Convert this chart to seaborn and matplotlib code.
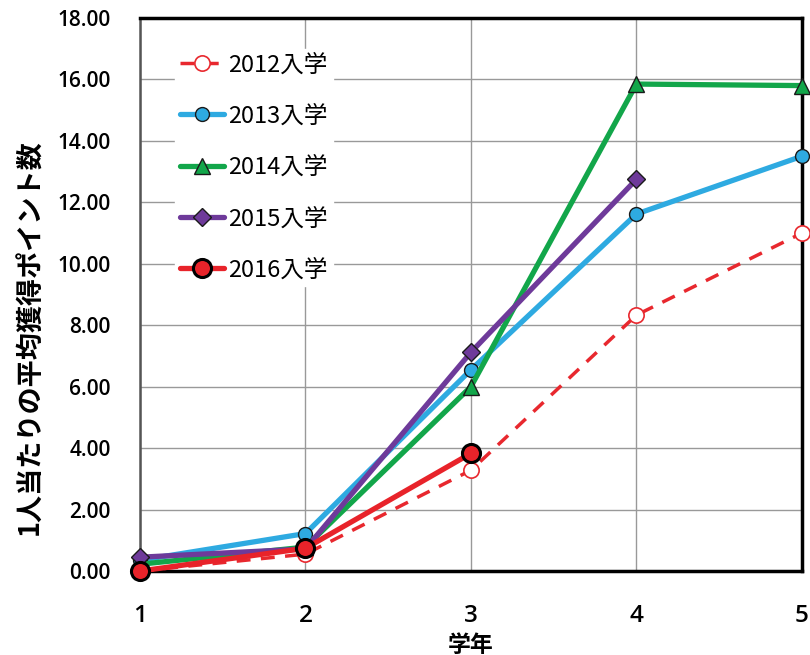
import matplotlib
matplotlib.use("Agg")
import matplotlib.pyplot as plt
import seaborn as sns
import pandas as pd
from matplotlib.ticker import FormatStrFormatter

grades = [1, 2, 3, 4, 5]
series_names = ["2012入学", "2013入学", "2014入学", "2015入学", "2016入学"]
v2012 = [0.0, 0.55, 3.28, 8.33, 11.0]
v2013 = [0.35, 1.22, 6.55, 11.62, 13.5]
v2014 = [0.22, 0.78, 6.0, 15.85, 15.8]
v2015 = [0.45, 0.72, 7.12, 12.75]
v2016 = [0.0, 0.74, 3.83]
values = [v2012, v2013, v2014, v2015, v2016]
yticks = [0, 2, 4, 6, 8, 10, 12, 14, 16, 18]

sns.set_style("white")
plt.rcParams['font.family'] = ['Noto Sans CJK JP', 'DejaVu Sans']

fig = plt.figure(figsize=(8.1, 6.55), dpi=100)
ax = fig.add_axes([0.1728, 0.1282, 0.8172, 0.8443])

styles = [
    dict(color="#E8282E", lw=2.5, ls=(0, (4, 3)), marker="o", ms=11, mfc="white", mec="#E8282E", mew=1.2),
    dict(color="#2EAAE1", lw=3.8, ls="-", marker="o", ms=10, mfc="#2EAAE1", mec="#1a1a1a", mew=1.0),
    dict(color="#12A64A", lw=3.8, ls="-", marker="^", ms=11, mfc="#12A64A", mec="#1a1a1a", mew=1.0),
    dict(color="#6E3A9A", lw=3.8, ls="-", marker="D", ms=9, mfc="#6E3A9A", mec="#1a1a1a", mew=1.0),
    dict(color="#E8232A", lw=3.8, ls="-", marker="o", ms=13, mfc="#E8232A", mec="#000000", mew=2.2),
]

handles = []
for name, vals, st in zip(series_names, values, styles):
    df = pd.DataFrame({"学年": grades[:len(vals)], "v": vals})
    sns.lineplot(data=df, x="学年", y="v", ax=ax, color=st["color"], linewidth=st["lw"],
                 linestyle=st["ls"], marker=st["marker"], markersize=st["ms"],
                 markerfacecolor=st["mfc"], markeredgecolor=st["mec"], markeredgewidth=st["mew"],
                 label=name, zorder=3, clip_on=False)
    handles.append(ax.lines[-1])

ax.set_xlim(1, 5)
ax.set_ylim(0, 18)
ax.set_xticks(grades)
ax.set_yticks(yticks)
ax.yaxis.set_major_formatter(FormatStrFormatter("%.2f"))
ax.grid(True, color="#999999", linewidth=1.0)
ax.set_axisbelow(True)

for side in ["top", "right", "bottom"]:
    ax.spines[side].set_color("black")
    ax.spines[side].set_linewidth(2.5)
ax.spines["left"].set_color("#555555")
ax.spines["left"].set_linewidth(1.8)

ax.tick_params(axis="x", direction="in", length=8, width=1, labelsize=17.5, pad=24,
               colors="black", labelcolor="black")
ax.tick_params(axis="y", length=0, labelsize=15, pad=21, labelcolor="black")
for lab in ax.get_yticklabels() + ax.get_xticklabels():
    lab.set_family(['Open Sans', 'DejaVu Sans'])
    lab.set_fontweight(600)

ax.set_xlabel("学年", fontsize=16.5, fontweight="bold", labelpad=0, color="black")
ax.xaxis.set_label_coords(0.5, -0.113)
ax.set_ylabel("1人当たりの平均獲得ポイント数", fontsize=19.5, fontweight="bold", color="black")
ax.yaxis.set_label_coords(-0.145, 0.423)

leg = ax.legend(handles=handles, labels=series_names, loc="upper left",
                bbox_to_anchor=(0.035, 0.966), fontsize=17, handlelength=1.86,
                handletextpad=0.2, labelspacing=1.2, frameon=True,
                facecolor="white", edgecolor="white", framealpha=1, fancybox=False,
                borderpad=0.2)
for t in leg.get_texts():
    t.set_color("black")
leg.set_zorder(2)

fig.savefig("out.png", dpi=100)
